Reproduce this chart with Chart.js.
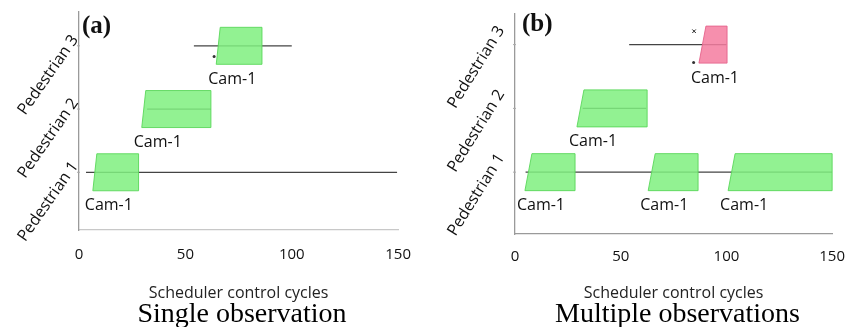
<!DOCTYPE html>
<html><head><meta charset="utf-8">
<script src="https://cdn.jsdelivr.net/npm/chart.js@4/dist/chart.umd.min.js"></script>
<style>
html,body{margin:0;padding:0;background:#fff;}
#wrap{position:relative;width:851px;height:327px;overflow:hidden;background:#fff;}
.panel{position:absolute;top:0;}
</style></head><body>
<div id="wrap">
<div class="panel" style="left:0;width:427px;height:327px"><canvas id="ca" width="427" height="327"></canvas></div>
<div class="panel" style="left:420px;width:439px;height:327px"><canvas id="cb" width="439" height="327"></canvas></div>
</div>
<script>
// ---- shared ----
const pedestrians = ['Pedestrian 1', 'Pedestrian 2', 'Pedestrian 3'];
const xTickValues = [0, 50, 100, 150];
const xAxisTitle = 'Scheduler control cycles';

// ---- panel (a): single observation ----
const aTitle = 'Single observation';
const aLetter = '(a)';
const aBarRow   = [1, 2, 3];
const aBarStart = [6.5, 29.5, 64.5];
const aBarEnd   = [28, 62, 86];
const aBarCam   = ['Cam-1', 'Cam-1', 'Cam-1'];
const aBarState = ['tracked', 'tracked', 'tracked'];
const aLineRow   = [1, 2, 3];
const aLineStart = [3.3, 32, 54];
const aLineEnd   = [149.5, 62, 100];
const aDotX = [63.5];
const aDotY = [2.83];
const aCrossX = [];
const aCrossY = [];

// ---- panel (b): multiple observations ----
const bTitle = 'Multiple observations';
const bLetter = '(b)';
const bBarRow   = [1, 1, 1, 2, 3];
const bBarStart = [4.7, 63, 100.8, 29.3, 87];
const bBarEnd   = [28.4, 86.6, 150, 62.5, 100.3];
const bBarCam   = ['Cam-1', 'Cam-1', 'Cam-1', 'Cam-1', 'Cam-1'];
const bBarState = ['tracked', 'tracked', 'tracked', 'tracked', 'lost'];
const bLineRow   = [1, 2, 3];
const bLineStart = [5, 32, 54];
const bLineEnd   = [150, 62, 100];
const bDotX = [84.5];
const bDotY = [2.72];
const bCrossX = [84.7];
const bCrossY = [3.21];

const FILL = { tracked: 'rgba(128,240,128,0.86)', lost: 'rgba(245,125,160,0.86)' };
const EDGE = { tracked: 'rgba(90,215,90,0.9)', lost: 'rgba(230,100,140,0.9)' };

const SANS = '"Open Sans", "DejaVu Sans", sans-serif';
const SERIF = '"Liberation Serif", "DejaVu Serif", serif';

const decor = {
  id: 'decor',
  beforeDatasetDraw(chart, args, opts) {
    if (args.meta.type !== 'bar') return;
    const ctx = chart.ctx;
    const ds = chart.data.datasets[args.index];
    ctx.save();
    args.meta.data.forEach((el, i) => {
      const p = el.getProps(['x', 'y', 'base', 'height'], true);
      const l = Math.min(p.x, p.base), r = Math.max(p.x, p.base);
      const t = p.y - p.height / 2, b = p.y + p.height / 2;
      ctx.beginPath();
      ctx.moveTo(l, b);
      ctx.lineTo(l + opts.slant, t);
      ctx.lineTo(r, t);
      ctx.lineTo(r, b);
      ctx.closePath();
      ctx.fillStyle = ds.backgroundColor[i];
      ctx.fill();
      ctx.lineWidth = 1;
      ctx.strokeStyle = ds.borderColor[i];
      ctx.stroke();
      ctx.fillStyle = '#111';
      ctx.font = '16px ' + SANS;
      ctx.textAlign = 'left';
      ctx.textBaseline = 'middle';
      ctx.fillText(ds.camLabels[i], l - 8, b + 15);
    });
    ctx.restore();
    return false;
  },
  afterDraw(chart, args, opts) {
    const ys = chart.scales.y, ctx = chart.ctx, ca = chart.chartArea;
    ctx.save();
    ctx.font = '16px ' + SANS;
    ctx.fillStyle = '#111';
    ctx.textAlign = 'right';
    ctx.textBaseline = 'middle';
    pedestrians.forEach((name, i) => {
      const py = ys.getPixelForValue(i + 1);
      ctx.strokeStyle = '#aaa';
      ctx.lineWidth = 1;
      ctx.beginPath(); ctx.moveTo(ca.left - 2, py); ctx.lineTo(ca.left + 1, py); ctx.stroke();
      ctx.save();
      ctx.translate(ca.left - opts.labelGap, py + opts.labelDy);
      ctx.rotate(-opts.angle * Math.PI / 180);
      ctx.fillText(name, 0, 0);
      ctx.restore();
    });
    ctx.font = 'bold 25px ' + SERIF;
    ctx.textAlign = 'left';
    ctx.fillStyle = '#111';
    ctx.fillText(opts.letter, ca.left + opts.letterDx, opts.letterY);
    ctx.restore();
  }
};

function makePanel(id, p) {
  const datasets = [];
  datasets.push({
    type: 'bar',
    data: p.barRow.map((r, i) => ({ y: r, x: [p.barStart[i], p.barEnd[i]] })),
    backgroundColor: p.barState.map(s => FILL[s]),
    borderColor: p.barState.map(s => EDGE[s]),
    camLabels: p.barCam,
    barThickness: 37,
    grouped: false,
    order: 0
  });
  p.lines.forEach(seg => {
    seg.row.forEach((r, i) => {
      datasets.push({
        type: 'line',
        data: [{ x: seg.start[i], y: r }, { x: seg.end[i], y: r }],
        borderColor: seg.color,
        borderWidth: 1.2,
        pointRadius: 0,
        order: 2
      });
    });
  });
  if (p.dotX.length) datasets.push({
    type: 'line', showLine: false,
    data: p.dotX.map((x, i) => ({ x, y: p.dotY[i] })),
    pointRadius: 1.5, pointBackgroundColor: '#333', pointBorderWidth: 0, order: -1
  });
  if (p.crossX.length) datasets.push({
    type: 'line', showLine: false,
    data: p.crossX.map((x, i) => ({ x, y: p.crossY[i] })),
    pointStyle: 'crossRot', pointRadius: 2.5, pointBorderColor: '#222', pointBorderWidth: 1, order: -1
  });

  return new Chart(document.getElementById(id), {
    type: 'bar',
    data: { datasets },
    plugins: [decor],
    options: {
      responsive: false,
      animation: false,
      indexAxis: 'y',
      layout: { padding: p.padding },
      scales: {
        x: {
          type: 'linear', min: 0, max: 150, offset: false,
          afterBuildTicks: s => { s.ticks = xTickValues.map(v => ({ value: v })); },
          grid: { display: false, drawTicks: false },
          border: { display: true, color: p.xBorder, width: 1.2 },
          ticks: { color: '#111', font: { family: SANS, size: 15 }, padding: p.tickPad },
          title: { display: true, text: xAxisTitle, color: '#222',
                   font: { family: SANS, size: 16, lineHeight: 1.0 },
                   padding: { top: p.xTitleTop, bottom: -2 } }
        },
        y: {
          type: 'linear', min: p.yMin, max: p.yMax, offset: false,
          grid: { display: false, drawTicks: false },
          border: { display: true, color: '#9a9a9a', width: 1.3 },
          ticks: { display: false }
        }
      },
      plugins: {
        legend: { display: false },
        tooltip: { enabled: false },
        title: { display: true, position: 'bottom', text: p.title, color: '#000',
                 font: { family: SERIF, size: 28, weight: 'normal', lineHeight: 1.0 },
                 padding: { top: 2, bottom: -2 } },
        decor: p.decor
      }
    }
  });
}

makePanel('ca', {
  barRow: aBarRow, barStart: aBarStart, barEnd: aBarEnd, barCam: aBarCam, barState: aBarState,
  lines: [{ row: aLineRow, start: aLineStart, end: aLineEnd, color: '#444' }],
  dotX: aDotX, dotY: aDotY, crossX: aCrossX, crossY: aCrossY,
  title: aTitle,
  padding: { left: 79, right: 22, top: 12, bottom: 0 },
  yMin: 0.087, yMax: 3.535, tickPad: 16, xTitleTop: 5, xBorder: '#c8c8c8',
  decor: { slant: 4, labelGap: 4, labelDy: -9, angle: 55, letter: aLetter, letterDx: 3, letterY: 27 }
});

makePanel('cb', {
  barRow: bBarRow, barStart: bBarStart, barEnd: bBarEnd, barCam: bBarCam, barState: bBarState,
  lines: [{ row: bLineRow, start: bLineStart, end: bLineEnd, color: '#444' }],
  dotX: bDotX, dotY: bDotY, crossX: bCrossX, crossY: bCrossY,
  title: bTitle,
  padding: { left: 95, right: 19, top: 14, bottom: 0 },
  yMin: 0.03, yMax: 3.48, tickPad: 14, xTitleTop: 5, xBorder: '#9a9a9a',
  decor: { slant: 7, labelGap: 14, labelDy: -17, angle: 58, letter: bLetter, letterDx: 7, letterY: 25 }
});
</script>
</body></html>
